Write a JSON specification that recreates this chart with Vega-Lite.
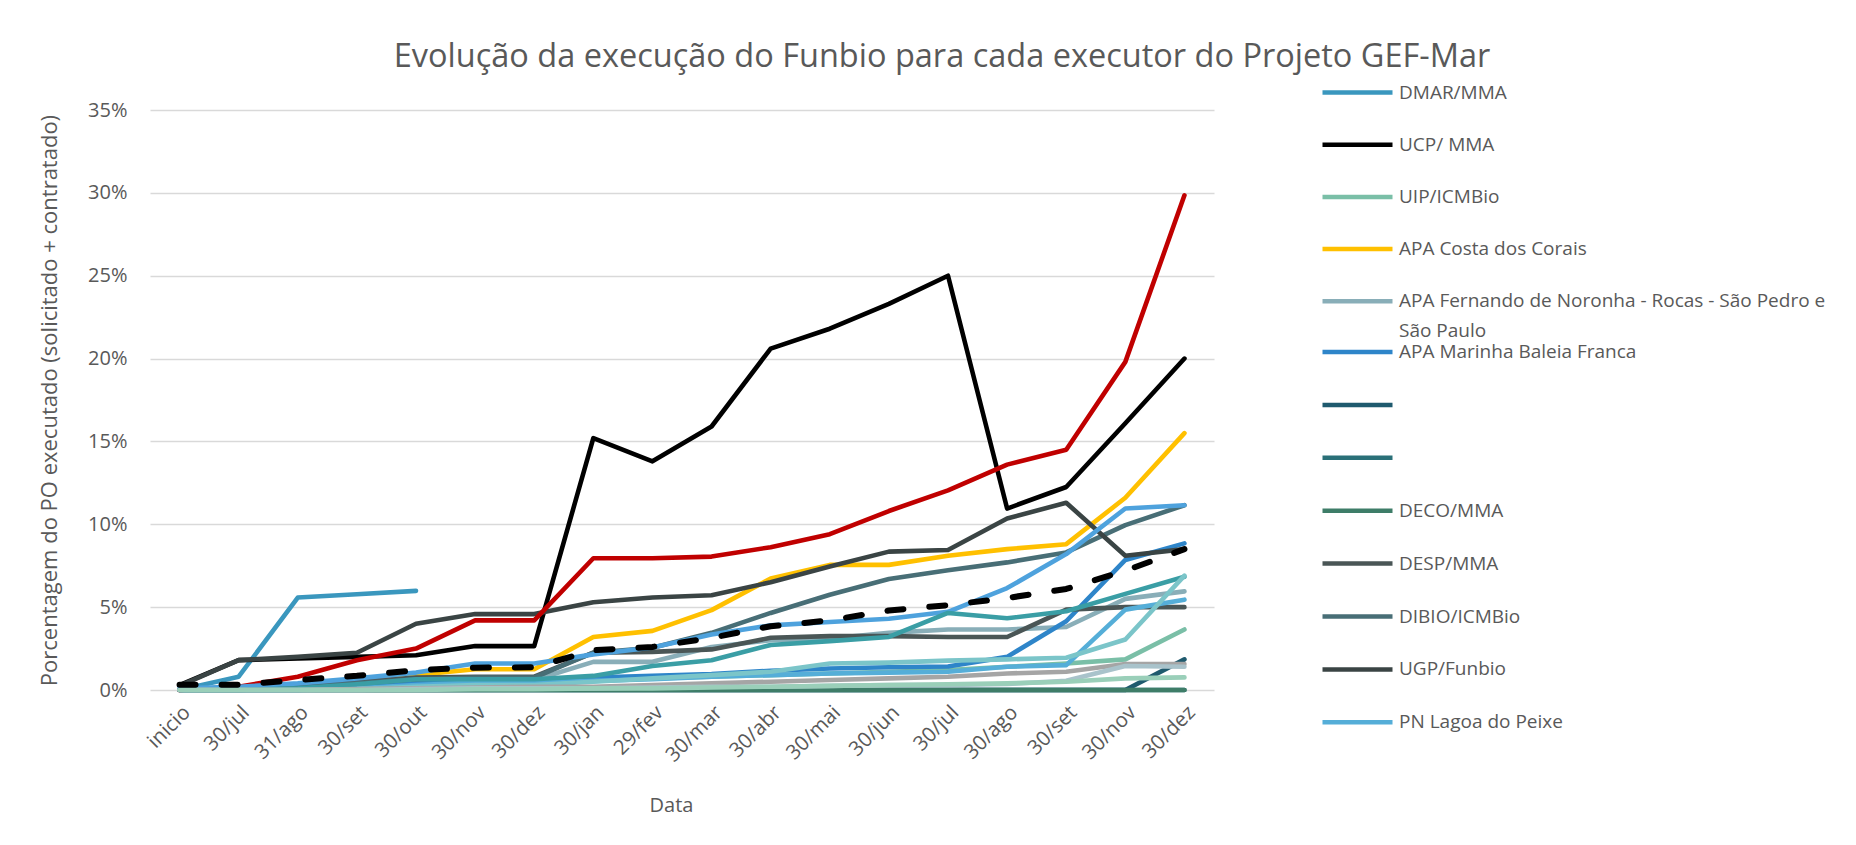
{
  "$schema": "https://vega.github.io/schema/vega-lite/v6.json",
  "autosize": {"type": "none"},
  "width": 1064,
  "height": 580,
  "padding": {"left": 150, "top": 110, "right": 642, "bottom": 155},
  "background": "white",
  "config": {
    "view": {"stroke": null},
    "font": "Open Sans",
    "axis": {"labelColor": "#595959", "titleColor": "#595959", "labelFont": "Open Sans", "titleFont": "Open Sans", "titleFontWeight": "normal"},
    "legend": {
      "orient": "none",
      "padding": 0,
      "symbolType": "stroke",
      "symbolSize": 4900,
      "symbolStrokeWidth": 4.5,
      "labelFont": "Open Sans",
      "labelFontSize": 19,
      "labelColor": "#595959",
      "labelLimit": 800,
      "labelOffset": 4,
      "rowPadding": 4.2
    }
  },
  "title": {
    "text": "Evolução da execução do Funbio para cada executor do Projeto GEF-Mar",
    "anchor": "middle",
    "frame": "group",
    "dx": 260,
    "offset": -44,
    "baseline": "alphabetic",
    "fontSize": 32.5,
    "font": "Open Sans",
    "fontWeight": "normal",
    "color": "#595959"
  },
  "data": {
    "values": [
      {"executor": "DMAR/MMA", "data": "inicio", "valor": 0},
      {"executor": "DMAR/MMA", "data": "30/jul/19", "valor": 0.8},
      {"executor": "DMAR/MMA", "data": "31/ago/19", "valor": 5.58},
      {"executor": "DMAR/MMA", "data": "30/set/19", "valor": 5.78},
      {"executor": "DMAR/MMA", "data": "30/out/19", "valor": 5.98},

      {"executor": "UCP/ MMA", "data": "inicio", "valor": 0.3},
      {"executor": "UCP/ MMA", "data": "30/jul/19", "valor": 1.8},
      {"executor": "UCP/ MMA", "data": "31/ago/19", "valor": 1.9},
      {"executor": "UCP/ MMA", "data": "30/set/19", "valor": 2.0},
      {"executor": "UCP/ MMA", "data": "30/out/19", "valor": 2.1},
      {"executor": "UCP/ MMA", "data": "30/nov/19", "valor": 2.65},
      {"executor": "UCP/ MMA", "data": "30/dez/19", "valor": 2.65},
      {"executor": "UCP/ MMA", "data": "30/jan/20", "valor": 15.2},
      {"executor": "UCP/ MMA", "data": "29/fev/20", "valor": 13.8},
      {"executor": "UCP/ MMA", "data": "30/mar/20", "valor": 15.9},
      {"executor": "UCP/ MMA", "data": "30/abr/20", "valor": 20.6},
      {"executor": "UCP/ MMA", "data": "30/mai/20", "valor": 21.8},
      {"executor": "UCP/ MMA", "data": "30/jun/20", "valor": 23.3},
      {"executor": "UCP/ MMA", "data": "30/jul/20", "valor": 25.0},
      {"executor": "UCP/ MMA", "data": "30/ago/20", "valor": 10.95},
      {"executor": "UCP/ MMA", "data": "30/set/20", "valor": 12.25},
      {"executor": "UCP/ MMA", "data": "30/nov/20", "valor": 16.1},
      {"executor": "UCP/ MMA", "data": "30/dez/20", "valor": 20.0},

      {"executor": "UIP/ICMBio", "data": "inicio", "valor": 0},
      {"executor": "UIP/ICMBio", "data": "30/jul/19", "valor": 0},
      {"executor": "UIP/ICMBio", "data": "31/ago/19", "valor": 0},
      {"executor": "UIP/ICMBio", "data": "30/set/19", "valor": 0.1},
      {"executor": "UIP/ICMBio", "data": "30/out/19", "valor": 0.3},
      {"executor": "UIP/ICMBio", "data": "30/nov/19", "valor": 0.45},
      {"executor": "UIP/ICMBio", "data": "30/dez/19", "valor": 0.45},
      {"executor": "UIP/ICMBio", "data": "30/jan/20", "valor": 0.6},
      {"executor": "UIP/ICMBio", "data": "29/fev/20", "valor": 0.7},
      {"executor": "UIP/ICMBio", "data": "30/mar/20", "valor": 0.8},
      {"executor": "UIP/ICMBio", "data": "30/abr/20", "valor": 0.9},
      {"executor": "UIP/ICMBio", "data": "30/mai/20", "valor": 1.0},
      {"executor": "UIP/ICMBio", "data": "30/jun/20", "valor": 1.1},
      {"executor": "UIP/ICMBio", "data": "30/jul/20", "valor": 1.2},
      {"executor": "UIP/ICMBio", "data": "30/ago/20", "valor": 1.4},
      {"executor": "UIP/ICMBio", "data": "30/set/20", "valor": 1.6},
      {"executor": "UIP/ICMBio", "data": "30/nov/20", "valor": 1.85},
      {"executor": "UIP/ICMBio", "data": "30/dez/20", "valor": 3.65},

      {"executor": "APA Costa dos Corais", "data": "inicio", "valor": 0},
      {"executor": "APA Costa dos Corais", "data": "30/jul/19", "valor": 0},
      {"executor": "APA Costa dos Corais", "data": "31/ago/19", "valor": 0.2},
      {"executor": "APA Costa dos Corais", "data": "30/set/19", "valor": 0.5},
      {"executor": "APA Costa dos Corais", "data": "30/out/19", "valor": 0.9},
      {"executor": "APA Costa dos Corais", "data": "30/nov/19", "valor": 1.25},
      {"executor": "APA Costa dos Corais", "data": "30/dez/19", "valor": 1.25},
      {"executor": "APA Costa dos Corais", "data": "30/jan/20", "valor": 3.2},
      {"executor": "APA Costa dos Corais", "data": "29/fev/20", "valor": 3.57},
      {"executor": "APA Costa dos Corais", "data": "30/mar/20", "valor": 4.82},
      {"executor": "APA Costa dos Corais", "data": "30/abr/20", "valor": 6.73},
      {"executor": "APA Costa dos Corais", "data": "30/mai/20", "valor": 7.55},
      {"executor": "APA Costa dos Corais", "data": "30/jun/20", "valor": 7.55},
      {"executor": "APA Costa dos Corais", "data": "30/jul/20", "valor": 8.1},
      {"executor": "APA Costa dos Corais", "data": "30/ago/20", "valor": 8.5},
      {"executor": "APA Costa dos Corais", "data": "30/set/20", "valor": 8.8},
      {"executor": "APA Costa dos Corais", "data": "30/nov/20", "valor": 11.6},
      {"executor": "APA Costa dos Corais", "data": "30/dez/20", "valor": 15.5},

      {"executor": "APA Fernando de Noronha - Rocas - São Pedro e São Paulo", "data": "inicio", "valor": 0},
      {"executor": "APA Fernando de Noronha - Rocas - São Pedro e São Paulo", "data": "30/jul/19", "valor": 0},
      {"executor": "APA Fernando de Noronha - Rocas - São Pedro e São Paulo", "data": "31/ago/19", "valor": 0},
      {"executor": "APA Fernando de Noronha - Rocas - São Pedro e São Paulo", "data": "30/set/19", "valor": 0.2},
      {"executor": "APA Fernando de Noronha - Rocas - São Pedro e São Paulo", "data": "30/out/19", "valor": 0.45},
      {"executor": "APA Fernando de Noronha - Rocas - São Pedro e São Paulo", "data": "30/nov/19", "valor": 0.6},
      {"executor": "APA Fernando de Noronha - Rocas - São Pedro e São Paulo", "data": "30/dez/19", "valor": 0.6},
      {"executor": "APA Fernando de Noronha - Rocas - São Pedro e São Paulo", "data": "30/jan/20", "valor": 1.7},
      {"executor": "APA Fernando de Noronha - Rocas - São Pedro e São Paulo", "data": "29/fev/20", "valor": 1.7},
      {"executor": "APA Fernando de Noronha - Rocas - São Pedro e São Paulo", "data": "30/mar/20", "valor": 2.6},
      {"executor": "APA Fernando de Noronha - Rocas - São Pedro e São Paulo", "data": "30/abr/20", "valor": 3.0},
      {"executor": "APA Fernando de Noronha - Rocas - São Pedro e São Paulo", "data": "30/mai/20", "valor": 3.1},
      {"executor": "APA Fernando de Noronha - Rocas - São Pedro e São Paulo", "data": "30/jun/20", "valor": 3.45},
      {"executor": "APA Fernando de Noronha - Rocas - São Pedro e São Paulo", "data": "30/jul/20", "valor": 3.65},
      {"executor": "APA Fernando de Noronha - Rocas - São Pedro e São Paulo", "data": "30/ago/20", "valor": 3.65},
      {"executor": "APA Fernando de Noronha - Rocas - São Pedro e São Paulo", "data": "30/set/20", "valor": 3.8},
      {"executor": "APA Fernando de Noronha - Rocas - São Pedro e São Paulo", "data": "30/nov/20", "valor": 5.5},
      {"executor": "APA Fernando de Noronha - Rocas - São Pedro e São Paulo", "data": "30/dez/20", "valor": 5.95},

      {"executor": "APA Marinha Baleia Franca", "data": "inicio", "valor": 0},
      {"executor": "APA Marinha Baleia Franca", "data": "30/jul/19", "valor": 0},
      {"executor": "APA Marinha Baleia Franca", "data": "31/ago/19", "valor": 0.1},
      {"executor": "APA Marinha Baleia Franca", "data": "30/set/19", "valor": 0.2},
      {"executor": "APA Marinha Baleia Franca", "data": "30/out/19", "valor": 0.4},
      {"executor": "APA Marinha Baleia Franca", "data": "30/nov/19", "valor": 0.5},
      {"executor": "APA Marinha Baleia Franca", "data": "30/dez/19", "valor": 0.55},
      {"executor": "APA Marinha Baleia Franca", "data": "30/jan/20", "valor": 0.75},
      {"executor": "APA Marinha Baleia Franca", "data": "29/fev/20", "valor": 0.85},
      {"executor": "APA Marinha Baleia Franca", "data": "30/mar/20", "valor": 0.96},
      {"executor": "APA Marinha Baleia Franca", "data": "30/abr/20", "valor": 1.16},
      {"executor": "APA Marinha Baleia Franca", "data": "30/mai/20", "valor": 1.3},
      {"executor": "APA Marinha Baleia Franca", "data": "30/jun/20", "valor": 1.37},
      {"executor": "APA Marinha Baleia Franca", "data": "30/jul/20", "valor": 1.42},
      {"executor": "APA Marinha Baleia Franca", "data": "30/ago/20", "valor": 2.0},
      {"executor": "APA Marinha Baleia Franca", "data": "30/set/20", "valor": 4.15},
      {"executor": "APA Marinha Baleia Franca", "data": "30/nov/20", "valor": 7.85},
      {"executor": "APA Marinha Baleia Franca", "data": "30/dez/20", "valor": 8.85},

      {"executor": " ", "data": "inicio", "valor": 0},
      {"executor": " ", "data": "30/jul/19", "valor": 0},
      {"executor": " ", "data": "31/ago/19", "valor": 0},
      {"executor": " ", "data": "30/set/19", "valor": 0},
      {"executor": " ", "data": "30/out/19", "valor": 0},
      {"executor": " ", "data": "30/nov/19", "valor": 0},
      {"executor": " ", "data": "30/dez/19", "valor": 0},
      {"executor": " ", "data": "30/jan/20", "valor": 0},
      {"executor": " ", "data": "29/fev/20", "valor": 0},
      {"executor": " ", "data": "30/mar/20", "valor": 0},
      {"executor": " ", "data": "30/abr/20", "valor": 0},
      {"executor": " ", "data": "30/mai/20", "valor": 0},
      {"executor": " ", "data": "30/jun/20", "valor": 0},
      {"executor": " ", "data": "30/jul/20", "valor": 0},
      {"executor": " ", "data": "30/ago/20", "valor": 0},
      {"executor": " ", "data": "30/set/20", "valor": 0},
      {"executor": " ", "data": "30/nov/20", "valor": 0},
      {"executor": " ", "data": "30/dez/20", "valor": 1.85},

      {"executor": "  ", "data": "inicio", "valor": 0},
      {"executor": "  ", "data": "30/jul/19", "valor": 0},
      {"executor": "  ", "data": "31/ago/19", "valor": 0},
      {"executor": "  ", "data": "30/set/19", "valor": 0},
      {"executor": "  ", "data": "30/out/19", "valor": 0},
      {"executor": "  ", "data": "30/nov/19", "valor": 0},
      {"executor": "  ", "data": "30/dez/19", "valor": 0},
      {"executor": "  ", "data": "30/jan/20", "valor": 0},
      {"executor": "  ", "data": "29/fev/20", "valor": 0},
      {"executor": "  ", "data": "30/mar/20", "valor": 0},
      {"executor": "  ", "data": "30/abr/20", "valor": 0},
      {"executor": "  ", "data": "30/mai/20", "valor": 0},
      {"executor": "  ", "data": "30/jun/20", "valor": 0},
      {"executor": "  ", "data": "30/jul/20", "valor": 0},
      {"executor": "  ", "data": "30/ago/20", "valor": 0},
      {"executor": "  ", "data": "30/set/20", "valor": 0},
      {"executor": "  ", "data": "30/nov/20", "valor": 0},
      {"executor": "  ", "data": "30/dez/20", "valor": 0},

      {"executor": "DECO/MMA", "data": "inicio", "valor": 0},
      {"executor": "DECO/MMA", "data": "30/jul/19", "valor": 0},
      {"executor": "DECO/MMA", "data": "31/ago/19", "valor": 0},
      {"executor": "DECO/MMA", "data": "30/set/19", "valor": 0},
      {"executor": "DECO/MMA", "data": "30/out/19", "valor": 0},
      {"executor": "DECO/MMA", "data": "30/nov/19", "valor": 0},
      {"executor": "DECO/MMA", "data": "30/dez/19", "valor": 0},
      {"executor": "DECO/MMA", "data": "30/jan/20", "valor": 0},
      {"executor": "DECO/MMA", "data": "29/fev/20", "valor": 0},
      {"executor": "DECO/MMA", "data": "30/mar/20", "valor": 0},
      {"executor": "DECO/MMA", "data": "30/abr/20", "valor": 0},
      {"executor": "DECO/MMA", "data": "30/mai/20", "valor": 0},
      {"executor": "DECO/MMA", "data": "30/jun/20", "valor": 0},
      {"executor": "DECO/MMA", "data": "30/jul/20", "valor": 0},
      {"executor": "DECO/MMA", "data": "30/ago/20", "valor": 0},
      {"executor": "DECO/MMA", "data": "30/set/20", "valor": 0},
      {"executor": "DECO/MMA", "data": "30/nov/20", "valor": 0},
      {"executor": "DECO/MMA", "data": "30/dez/20", "valor": 0},

      {"executor": "DESP/MMA", "data": "inicio", "valor": 0},
      {"executor": "DESP/MMA", "data": "30/jul/19", "valor": 0.2},
      {"executor": "DESP/MMA", "data": "31/ago/19", "valor": 0.3},
      {"executor": "DESP/MMA", "data": "30/set/19", "valor": 0.5},
      {"executor": "DESP/MMA", "data": "30/out/19", "valor": 0.75},
      {"executor": "DESP/MMA", "data": "30/nov/19", "valor": 0.8},
      {"executor": "DESP/MMA", "data": "30/dez/19", "valor": 0.8},
      {"executor": "DESP/MMA", "data": "30/jan/20", "valor": 2.25},
      {"executor": "DESP/MMA", "data": "29/fev/20", "valor": 2.3},
      {"executor": "DESP/MMA", "data": "30/mar/20", "valor": 2.45},
      {"executor": "DESP/MMA", "data": "30/abr/20", "valor": 3.15},
      {"executor": "DESP/MMA", "data": "30/mai/20", "valor": 3.25},
      {"executor": "DESP/MMA", "data": "30/jun/20", "valor": 3.25},
      {"executor": "DESP/MMA", "data": "30/jul/20", "valor": 3.2},
      {"executor": "DESP/MMA", "data": "30/ago/20", "valor": 3.2},
      {"executor": "DESP/MMA", "data": "30/set/20", "valor": 4.85},
      {"executor": "DESP/MMA", "data": "30/nov/20", "valor": 5.0},
      {"executor": "DESP/MMA", "data": "30/dez/20", "valor": 5.0},

      {"executor": "DIBIO/ICMBio", "data": "inicio", "valor": 0},
      {"executor": "DIBIO/ICMBio", "data": "30/jul/19", "valor": 0.1},
      {"executor": "DIBIO/ICMBio", "data": "31/ago/19", "valor": 0.2},
      {"executor": "DIBIO/ICMBio", "data": "30/set/19", "valor": 0.4},
      {"executor": "DIBIO/ICMBio", "data": "30/out/19", "valor": 0.65},
      {"executor": "DIBIO/ICMBio", "data": "30/nov/19", "valor": 0.75},
      {"executor": "DIBIO/ICMBio", "data": "30/dez/19", "valor": 0.75},
      {"executor": "DIBIO/ICMBio", "data": "30/jan/20", "valor": 2.25},
      {"executor": "DIBIO/ICMBio", "data": "29/fev/20", "valor": 2.55},
      {"executor": "DIBIO/ICMBio", "data": "30/mar/20", "valor": 3.45},
      {"executor": "DIBIO/ICMBio", "data": "30/abr/20", "valor": 4.65},
      {"executor": "DIBIO/ICMBio", "data": "30/mai/20", "valor": 5.75},
      {"executor": "DIBIO/ICMBio", "data": "30/jun/20", "valor": 6.7},
      {"executor": "DIBIO/ICMBio", "data": "30/jul/20", "valor": 7.23},
      {"executor": "DIBIO/ICMBio", "data": "30/ago/20", "valor": 7.7},
      {"executor": "DIBIO/ICMBio", "data": "30/set/20", "valor": 8.3},
      {"executor": "DIBIO/ICMBio", "data": "30/nov/20", "valor": 9.95},
      {"executor": "DIBIO/ICMBio", "data": "30/dez/20", "valor": 11.15},

      {"executor": "UGP/Funbio", "data": "inicio", "valor": 0.25},
      {"executor": "UGP/Funbio", "data": "30/jul/19", "valor": 1.8},
      {"executor": "UGP/Funbio", "data": "31/ago/19", "valor": 2.0},
      {"executor": "UGP/Funbio", "data": "30/set/19", "valor": 2.25},
      {"executor": "UGP/Funbio", "data": "30/out/19", "valor": 4.0},
      {"executor": "UGP/Funbio", "data": "30/nov/19", "valor": 4.58},
      {"executor": "UGP/Funbio", "data": "30/dez/19", "valor": 4.58},
      {"executor": "UGP/Funbio", "data": "30/jan/20", "valor": 5.3},
      {"executor": "UGP/Funbio", "data": "29/fev/20", "valor": 5.58},
      {"executor": "UGP/Funbio", "data": "30/mar/20", "valor": 5.72},
      {"executor": "UGP/Funbio", "data": "30/abr/20", "valor": 6.5},
      {"executor": "UGP/Funbio", "data": "30/mai/20", "valor": 7.45},
      {"executor": "UGP/Funbio", "data": "30/jun/20", "valor": 8.35},
      {"executor": "UGP/Funbio", "data": "30/jul/20", "valor": 8.45},
      {"executor": "UGP/Funbio", "data": "30/ago/20", "valor": 10.35},
      {"executor": "UGP/Funbio", "data": "30/set/20", "valor": 11.3},
      {"executor": "UGP/Funbio", "data": "30/nov/20", "valor": 8.1},
      {"executor": "UGP/Funbio", "data": "30/dez/20", "valor": 8.5},

      {"executor": "PN Lagoa do Peixe", "data": "inicio", "valor": 0},
      {"executor": "PN Lagoa do Peixe", "data": "30/jul/19", "valor": 0},
      {"executor": "PN Lagoa do Peixe", "data": "31/ago/19", "valor": 0},
      {"executor": "PN Lagoa do Peixe", "data": "30/set/19", "valor": 0.1},
      {"executor": "PN Lagoa do Peixe", "data": "30/out/19", "valor": 0.3},
      {"executor": "PN Lagoa do Peixe", "data": "30/nov/19", "valor": 0.45},
      {"executor": "PN Lagoa do Peixe", "data": "30/dez/19", "valor": 0.45},
      {"executor": "PN Lagoa do Peixe", "data": "30/jan/20", "valor": 0.55},
      {"executor": "PN Lagoa do Peixe", "data": "29/fev/20", "valor": 0.65},
      {"executor": "PN Lagoa do Peixe", "data": "30/mar/20", "valor": 0.8},
      {"executor": "PN Lagoa do Peixe", "data": "30/abr/20", "valor": 0.9},
      {"executor": "PN Lagoa do Peixe", "data": "30/mai/20", "valor": 1.0},
      {"executor": "PN Lagoa do Peixe", "data": "30/jun/20", "valor": 1.05},
      {"executor": "PN Lagoa do Peixe", "data": "30/jul/20", "valor": 1.1},
      {"executor": "PN Lagoa do Peixe", "data": "30/ago/20", "valor": 1.4},
      {"executor": "PN Lagoa do Peixe", "data": "30/set/20", "valor": 1.5},
      {"executor": "PN Lagoa do Peixe", "data": "30/nov/20", "valor": 4.85},
      {"executor": "PN Lagoa do Peixe", "data": "30/dez/20", "valor": 5.45},

      {"executor": "Série 14", "data": "inicio", "valor": 0},
      {"executor": "Série 14", "data": "30/jul/19", "valor": 0.2},
      {"executor": "Série 14", "data": "31/ago/19", "valor": 0.8},
      {"executor": "Série 14", "data": "30/set/19", "valor": 1.8},
      {"executor": "Série 14", "data": "30/out/19", "valor": 2.5},
      {"executor": "Série 14", "data": "30/nov/19", "valor": 4.2},
      {"executor": "Série 14", "data": "30/dez/19", "valor": 4.2},
      {"executor": "Série 14", "data": "30/jan/20", "valor": 7.95},
      {"executor": "Série 14", "data": "29/fev/20", "valor": 7.95},
      {"executor": "Série 14", "data": "30/mar/20", "valor": 8.05},
      {"executor": "Série 14", "data": "30/abr/20", "valor": 8.62},
      {"executor": "Série 14", "data": "30/mai/20", "valor": 9.4},
      {"executor": "Série 14", "data": "30/jun/20", "valor": 10.8},
      {"executor": "Série 14", "data": "30/jul/20", "valor": 12.05},
      {"executor": "Série 14", "data": "30/ago/20", "valor": 13.6},
      {"executor": "Série 14", "data": "30/set/20", "valor": 14.5},
      {"executor": "Série 14", "data": "30/nov/20", "valor": 19.8},
      {"executor": "Série 14", "data": "30/dez/20", "valor": 29.85},

      {"executor": "Série 15", "data": "inicio", "valor": 0.1},
      {"executor": "Série 15", "data": "30/jul/19", "valor": 0.2},
      {"executor": "Série 15", "data": "31/ago/19", "valor": 0.4},
      {"executor": "Série 15", "data": "30/set/19", "valor": 0.7},
      {"executor": "Série 15", "data": "30/out/19", "valor": 1.05},
      {"executor": "Série 15", "data": "30/nov/19", "valor": 1.6},
      {"executor": "Série 15", "data": "30/dez/19", "valor": 1.6},
      {"executor": "Série 15", "data": "30/jan/20", "valor": 2.15},
      {"executor": "Série 15", "data": "29/fev/20", "valor": 2.57},
      {"executor": "Série 15", "data": "30/mar/20", "valor": 3.35},
      {"executor": "Série 15", "data": "30/abr/20", "valor": 3.9},
      {"executor": "Série 15", "data": "30/mai/20", "valor": 4.1},
      {"executor": "Série 15", "data": "30/jun/20", "valor": 4.3},
      {"executor": "Série 15", "data": "30/jul/20", "valor": 4.72},
      {"executor": "Série 15", "data": "30/ago/20", "valor": 6.15},
      {"executor": "Série 15", "data": "30/set/20", "valor": 8.2},
      {"executor": "Série 15", "data": "30/nov/20", "valor": 10.95},
      {"executor": "Série 15", "data": "30/dez/20", "valor": 11.15},

      {"executor": "Série 16", "data": "inicio", "valor": 0},
      {"executor": "Série 16", "data": "30/jul/19", "valor": 0},
      {"executor": "Série 16", "data": "31/ago/19", "valor": 0.1},
      {"executor": "Série 16", "data": "30/set/19", "valor": 0.35},
      {"executor": "Série 16", "data": "30/out/19", "valor": 0.65},
      {"executor": "Série 16", "data": "30/nov/19", "valor": 0.65},
      {"executor": "Série 16", "data": "30/dez/19", "valor": 0.65},
      {"executor": "Série 16", "data": "30/jan/20", "valor": 0.85},
      {"executor": "Série 16", "data": "29/fev/20", "valor": 1.45},
      {"executor": "Série 16", "data": "30/mar/20", "valor": 1.8},
      {"executor": "Série 16", "data": "30/abr/20", "valor": 2.72},
      {"executor": "Série 16", "data": "30/mai/20", "valor": 2.95},
      {"executor": "Série 16", "data": "30/jun/20", "valor": 3.2},
      {"executor": "Série 16", "data": "30/jul/20", "valor": 4.65},
      {"executor": "Série 16", "data": "30/ago/20", "valor": 4.33},
      {"executor": "Série 16", "data": "30/set/20", "valor": 4.75},
      {"executor": "Série 16", "data": "30/nov/20", "valor": 5.8},
      {"executor": "Série 16", "data": "30/dez/20", "valor": 6.83},

      {"executor": "Série 17", "data": "inicio", "valor": 0},
      {"executor": "Série 17", "data": "30/jul/19", "valor": 0},
      {"executor": "Série 17", "data": "31/ago/19", "valor": 0},
      {"executor": "Série 17", "data": "30/set/19", "valor": 0.05},
      {"executor": "Série 17", "data": "30/out/19", "valor": 0.2},
      {"executor": "Série 17", "data": "30/nov/19", "valor": 0.3},
      {"executor": "Série 17", "data": "30/dez/19", "valor": 0.3},
      {"executor": "Série 17", "data": "30/jan/20", "valor": 0.5},
      {"executor": "Série 17", "data": "29/fev/20", "valor": 0.7},
      {"executor": "Série 17", "data": "30/mar/20", "valor": 0.9},
      {"executor": "Série 17", "data": "30/abr/20", "valor": 1.1},
      {"executor": "Série 17", "data": "30/mai/20", "valor": 1.6},
      {"executor": "Série 17", "data": "30/jun/20", "valor": 1.65},
      {"executor": "Série 17", "data": "30/jul/20", "valor": 1.77},
      {"executor": "Série 17", "data": "30/ago/20", "valor": 1.85},
      {"executor": "Série 17", "data": "30/set/20", "valor": 1.95},
      {"executor": "Série 17", "data": "30/nov/20", "valor": 3.05},
      {"executor": "Série 17", "data": "30/dez/20", "valor": 6.9},

      {"executor": "Série 18", "data": "inicio", "valor": 0},
      {"executor": "Série 18", "data": "30/jul/19", "valor": 0},
      {"executor": "Série 18", "data": "31/ago/19", "valor": 0},
      {"executor": "Série 18", "data": "30/set/19", "valor": 0.05},
      {"executor": "Série 18", "data": "30/out/19", "valor": 0.1},
      {"executor": "Série 18", "data": "30/nov/19", "valor": 0.15},
      {"executor": "Série 18", "data": "30/dez/19", "valor": 0.2},
      {"executor": "Série 18", "data": "30/jan/20", "valor": 0.2},
      {"executor": "Série 18", "data": "29/fev/20", "valor": 0.3},
      {"executor": "Série 18", "data": "30/mar/20", "valor": 0.4},
      {"executor": "Série 18", "data": "30/abr/20", "valor": 0.5},
      {"executor": "Série 18", "data": "30/mai/20", "valor": 0.6},
      {"executor": "Série 18", "data": "30/jun/20", "valor": 0.7},
      {"executor": "Série 18", "data": "30/jul/20", "valor": 0.8},
      {"executor": "Série 18", "data": "30/ago/20", "valor": 1.0},
      {"executor": "Série 18", "data": "30/set/20", "valor": 1.1},
      {"executor": "Série 18", "data": "30/nov/20", "valor": 1.57},
      {"executor": "Série 18", "data": "30/dez/20", "valor": 1.57},

      {"executor": "Série 19", "data": "inicio", "valor": 0},
      {"executor": "Série 19", "data": "30/jul/19", "valor": 0},
      {"executor": "Série 19", "data": "31/ago/19", "valor": 0},
      {"executor": "Série 19", "data": "30/set/19", "valor": 0},
      {"executor": "Série 19", "data": "30/out/19", "valor": 0.05},
      {"executor": "Série 19", "data": "30/nov/19", "valor": 0.1},
      {"executor": "Série 19", "data": "30/dez/19", "valor": 0.1},
      {"executor": "Série 19", "data": "30/jan/20", "valor": 0.1},
      {"executor": "Série 19", "data": "29/fev/20", "valor": 0.15},
      {"executor": "Série 19", "data": "30/mar/20", "valor": 0.2},
      {"executor": "Série 19", "data": "30/abr/20", "valor": 0.2},
      {"executor": "Série 19", "data": "30/mai/20", "valor": 0.25},
      {"executor": "Série 19", "data": "30/jun/20", "valor": 0.3},
      {"executor": "Série 19", "data": "30/jul/20", "valor": 0.3},
      {"executor": "Série 19", "data": "30/ago/20", "valor": 0.36},
      {"executor": "Série 19", "data": "30/set/20", "valor": 0.56},
      {"executor": "Série 19", "data": "30/nov/20", "valor": 1.45},
      {"executor": "Série 19", "data": "30/dez/20", "valor": 1.4},

      {"executor": "Série 20", "data": "inicio", "valor": 0},
      {"executor": "Série 20", "data": "30/jul/19", "valor": 0},
      {"executor": "Série 20", "data": "31/ago/19", "valor": 0},
      {"executor": "Série 20", "data": "30/set/19", "valor": 0},
      {"executor": "Série 20", "data": "30/out/19", "valor": 0},
      {"executor": "Série 20", "data": "30/nov/19", "valor": 0.05},
      {"executor": "Série 20", "data": "30/dez/19", "valor": 0.05},
      {"executor": "Série 20", "data": "30/jan/20", "valor": 0.1},
      {"executor": "Série 20", "data": "29/fev/20", "valor": 0.1},
      {"executor": "Série 20", "data": "30/mar/20", "valor": 0.15},
      {"executor": "Série 20", "data": "30/abr/20", "valor": 0.2},
      {"executor": "Série 20", "data": "30/mai/20", "valor": 0.25},
      {"executor": "Série 20", "data": "30/jun/20", "valor": 0.3},
      {"executor": "Série 20", "data": "30/jul/20", "valor": 0.35},
      {"executor": "Série 20", "data": "30/ago/20", "valor": 0.4},
      {"executor": "Série 20", "data": "30/set/20", "valor": 0.5},
      {"executor": "Série 20", "data": "30/nov/20", "valor": 0.7},
      {"executor": "Série 20", "data": "30/dez/20", "valor": 0.76},

      {"executor": "Média", "data": "inicio", "valor": 0.32},
      {"executor": "Média", "data": "30/jul/19", "valor": 0.32},
      {"executor": "Média", "data": "31/ago/19", "valor": 0.6},
      {"executor": "Média", "data": "30/set/19", "valor": 0.86},
      {"executor": "Média", "data": "30/out/19", "valor": 1.2},
      {"executor": "Média", "data": "30/nov/19", "valor": 1.35},
      {"executor": "Média", "data": "30/dez/19", "valor": 1.37},
      {"executor": "Média", "data": "30/jan/20", "valor": 2.4},
      {"executor": "Média", "data": "29/fev/20", "valor": 2.6},
      {"executor": "Média", "data": "30/mar/20", "valor": 3.15},
      {"executor": "Média", "data": "30/abr/20", "valor": 3.85},
      {"executor": "Média", "data": "30/mai/20", "valor": 4.2},
      {"executor": "Média", "data": "30/jun/20", "valor": 4.8},
      {"executor": "Média", "data": "30/jul/20", "valor": 5.12},
      {"executor": "Média", "data": "30/ago/20", "valor": 5.55},
      {"executor": "Média", "data": "30/set/20", "valor": 6.1},
      {"executor": "Média", "data": "30/nov/20", "valor": 7.2},
      {"executor": "Média", "data": "30/dez/20", "valor": 8.5}
    ]
  },
  "encoding": {
    "x": {
      "field": "data",
      "type": "ordinal",
      "sort": ["inicio", "30/jul/19", "31/ago/19", "30/set/19", "30/out/19", "30/nov/19", "30/dez/19", "30/jan/20", "29/fev/20", "30/mar/20", "30/abr/20", "30/mai/20", "30/jun/20", "30/jul/20", "30/ago/20", "30/set/20", "30/nov/20", "30/dez/20"],
      "scale": {"type": "point", "padding": 0.5},
      "axis": {
        "title": "Data",
        "titleFontSize": 20,
        "titlePadding": 30,
        "titleX": 521,
        "labelExpr": "slice(datum.label, 0, 6)",
        "labelAngle": -45,
        "labelFontSize": 20.5,
        "labelPadding": 12,
        "domain": false,
        "ticks": false,
        "grid": false
      }
    },
    "y": {
      "field": "valor",
      "type": "quantitative",
      "scale": {"domain": [0, 35], "nice": false},
      "axis": {
        "title": "Porcentagem do PO executado (solicitado + contratado)",
        "titleFontSize": 22,
        "titlePadding": 26,
        "values": [0, 5, 10, 15, 20, 25, 30, 35],
        "labelExpr": "datum.value + '%'",
        "labelFontSize": 20,
        "labelPadding": 23,
        "domain": false,
        "ticks": false,
        "grid": true,
        "gridColor": "#D9D9D9",
        "gridWidth": 1.3
      }
    }
  },
  "layer": [
    {
      "transform": [{"filter": {"field": "executor", "oneOf": ["DMAR/MMA", "UCP/ MMA", "UIP/ICMBio", "APA Costa dos Corais", "APA Fernando de Noronha - Rocas - São Pedro e São Paulo"]}}],
      "mark": {"type": "line", "strokeWidth": 4.6, "strokeCap": "round", "strokeJoin": "round"},
      "encoding": {
        "color": {
          "field": "executor",
          "type": "nominal",
          "scale": {
            "domain": ["DMAR/MMA", "UCP/ MMA", "UIP/ICMBio", "APA Costa dos Corais", "APA Fernando de Noronha - Rocas - São Pedro e São Paulo"],
            "range": ["#3A97BE", "#000000", "#7ABFA7", "#FFC000", "#89AEB8"]
          },
          "legend": {
            "title": null,
            "legendX": 1170,
            "legendY": -55,
            "labelExpr": "datum.label == 'APA Fernando de Noronha - Rocas - São Pedro e São Paulo' ? ['APA Fernando de Noronha - Rocas - São Pedro e', 'São Paulo'] : datum.label",
            "encode": {"labels": {"update": {"lineHeight": {"value": 29.5}}}}
          }
        }
      }
    },
    {
      "transform": [{"filter": "indexof(['DMAR/MMA', 'UCP/ MMA', 'UIP/ICMBio', 'APA Costa dos Corais', 'APA Fernando de Noronha - Rocas - São Pedro e São Paulo', 'Média'], datum.executor) < 0"}],
      "mark": {"type": "line", "strokeWidth": 4.6, "strokeCap": "round", "strokeJoin": "round"},
      "encoding": {
        "stroke": {
          "field": "executor",
          "type": "nominal",
          "scale": {
            "domain": ["APA Marinha Baleia Franca", " ", "  ", "DECO/MMA", "DESP/MMA", "DIBIO/ICMBio", "UGP/Funbio", "PN Lagoa do Peixe", "Série 14", "Série 15", "Série 16", "Série 17", "Série 18", "Série 19", "Série 20", "Média"],
            "range": ["#2E85C9", "#1F5A6E", "#2A7078", "#3E7D68", "#4A5656", "#486E76", "#3A4444", "#55AED8", "#C00000", "#4EA2DD", "#3A9EA5", "#7BC5C9", "#A5A5A5", "#A9C3CB", "#9ACFB9", "#000000"]
          },
          "legend": {
            "title": null,
            "legendX": 1170,
            "legendY": 204.5,
            "rowPadding": 4.9,
            "values": ["APA Marinha Baleia Franca", " ", "  ", "DECO/MMA", "DESP/MMA", "DIBIO/ICMBio", "UGP/Funbio", "PN Lagoa do Peixe"]
          }
        }
      }
    },
    {
      "transform": [{"filter": "datum.executor == 'Média'"}],
      "mark": {"type": "line", "strokeWidth": 6, "strokeCap": "round", "strokeJoin": "round", "strokeDash": [16, 26]},
      "encoding": {
        "stroke": {
          "field": "executor",
          "type": "nominal",
          "scale": {
            "domain": ["APA Marinha Baleia Franca", " ", "  ", "DECO/MMA", "DESP/MMA", "DIBIO/ICMBio", "UGP/Funbio", "PN Lagoa do Peixe", "Série 14", "Série 15", "Série 16", "Série 17", "Série 18", "Série 19", "Série 20", "Média"],
            "range": ["#2E85C9", "#1F5A6E", "#2A7078", "#3E7D68", "#4A5656", "#486E76", "#3A4444", "#55AED8", "#C00000", "#4EA2DD", "#3A9EA5", "#7BC5C9", "#A5A5A5", "#A9C3CB", "#9ACFB9", "#000000"]
          },
          "legend": {
            "title": null,
            "legendX": 1170,
            "legendY": 204.5,
            "rowPadding": 4.9,
            "values": ["APA Marinha Baleia Franca", " ", "  ", "DECO/MMA", "DESP/MMA", "DIBIO/ICMBio", "UGP/Funbio", "PN Lagoa do Peixe"]
          }
        }
      }
    }
  ]
}
